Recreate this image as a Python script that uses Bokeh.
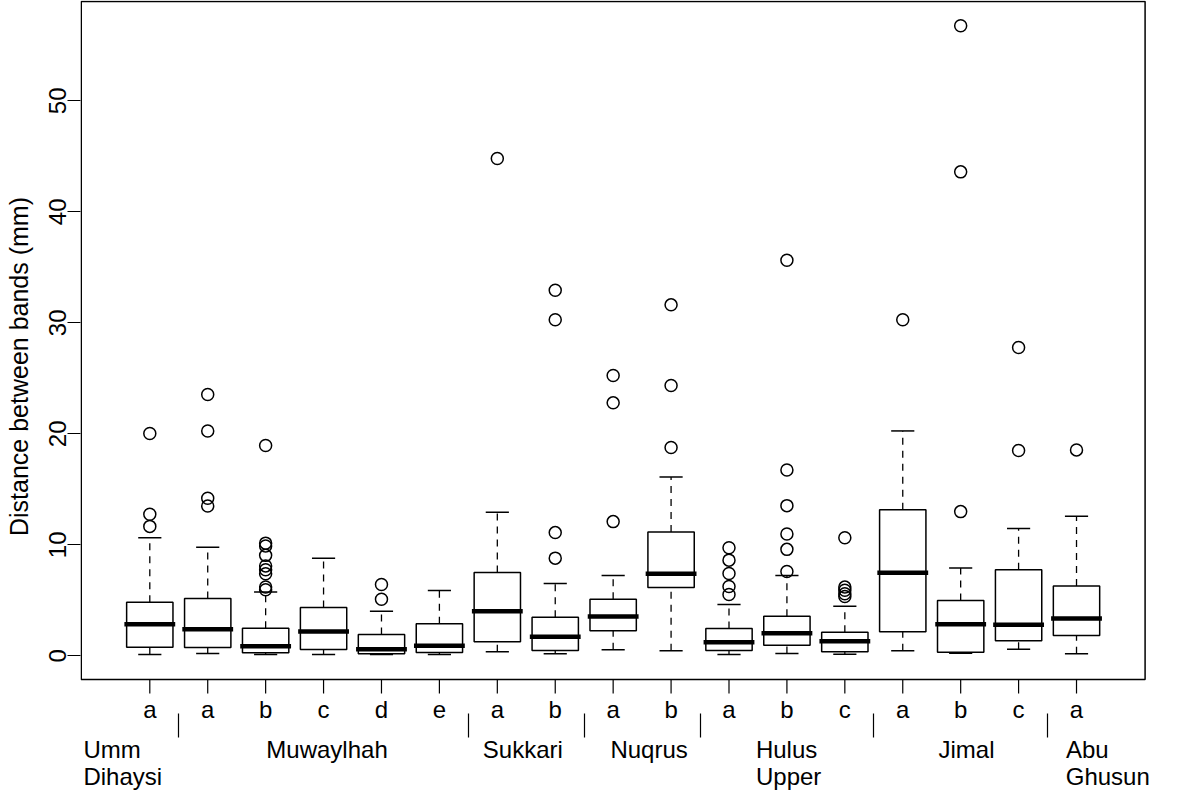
from bokeh.plotting import figure
from bokeh.models import FixedTicker, ColumnDataSource, Range1d, LinearAxis
from bokeh.core.properties import value
from bokeh.embed import file_html
from bokeh.resources import INLINE

# ---------------- data ----------------
sites = ["Umm Dihaysi", "Muwaylhah", "Muwaylhah", "Muwaylhah", "Muwaylhah", "Muwaylhah",
         "Sukkari", "Sukkari", "Nuqrus", "Nuqrus", "Hulus Upper", "Hulus Upper", "Hulus Upper",
         "Jimal", "Jimal", "Jimal", "Abu Ghusun"]
letters = ["a", "a", "b", "c", "d", "e", "a", "b", "a", "b", "a", "b", "c", "a", "b", "c", "a"]

lower_whisker = [0.12, 0.21, 0.12, 0.12, 0.12, 0.12, 0.36, 0.18, 0.54, 0.45, 0.12, 0.21, 0.14, 0.45, 0.24, 0.60, 0.18]
q1 = [0.78, 0.75, 0.27, 0.57, 0.18, 0.30, 1.26, 0.48, 2.25, 6.16, 0.48, 0.96, 0.36, 2.16, 0.33, 1.35, 1.83]
median = [2.85, 2.40, 0.87, 2.19, 0.60, 0.90, 4.02, 1.71, 3.55, 7.40, 1.23, 2.04, 1.32, 7.49, 2.85, 2.80, 3.36]
q3 = [4.83, 5.17, 2.49, 4.36, 1.92, 2.89, 7.51, 3.48, 5.10, 11.15, 2.46, 3.57, 2.13, 13.17, 4.99, 7.76, 6.28]
upper_whisker = [10.64, 9.77, 5.74, 8.78, 4.02, 5.89, 12.93, 6.52, 7.24, 16.11, 4.63, 7.24, 4.47, 20.26, 7.90, 11.46, 12.57]
outliers = [
    [11.66, 12.75, 20.03],
    [13.5, 14.2, 20.26, 23.54],
    [5.95, 6.2, 7.4, 7.75, 8.1, 9.05, 9.9, 10.15, 18.94],
    [],
    [5.1, 6.43],
    [],
    [44.8],
    [8.8, 11.1, 30.27, 32.94],
    [12.09, 22.79, 25.26],
    [18.76, 24.36, 31.62],
    [5.53, 6.25, 7.42, 8.62, 9.74],
    [7.6, 9.59, 10.97, 13.53, 16.74, 35.64],
    [5.35, 5.59, 5.9, 6.19, 10.64],
    [30.27],
    [12.99, 43.6, 56.76],
    [18.49, 27.77],
    [18.55],
]
y_ticks = [0, 10, 20, 30, 40, 50]

group_line1 = ["Umm", "Muwaylhah", "Sukkari", "Nuqrus", "Hulus", "Jimal", "Abu"]
group_line2 = ["Dihaysi", "Upper", "Ghusun"]

# ---------------- layout (positions / styles) ----------------
FONT = "Liberation Sans"
FS = "24px"
n = len(letters)
pos = list(range(1, n + 1))
box_w = 0.8
cap_w = 0.4

box_left, box_right = -0.184, n + 1.184
box_bottom, box_top = -2.14, 58.95
tick_bottom = -3.40          # end of the x tick marks
letter_y = -4.81             # middle of the letter row

# label anchors (centre of each text, box-position units)
line1_x = [0.349, 4.06, 7.44, 9.62, 11.995, 15.1, 17.185]
line2_x = [0.534, 12.03, 17.54]
sep_x = [i + 0.5 for i in range(1, n) if sites[i] != sites[i - 1]]

W, H = 1190, 798
p = figure(width=W, height=H, output_backend="svg", toolbar_location=None,
           x_range=Range1d(-0.1965, 18.968), y_range=Range1d(-6.91, 59.04),
           min_border_left=80, min_border_right=0, min_border_top=0, min_border_bottom=66)
p.grid.visible = False
p.outline_line_color = None
p.background_fill_color = "white"
p.border_fill_color = "white"

src = ColumnDataSource(dict(x=pos, lw=lower_whisker, q1=q1, med=median, q3=q3, uw=upper_whisker,
                            x0=[x - box_w / 2 for x in pos], x1=[x + box_w / 2 for x in pos],
                            c0=[x - cap_w / 2 for x in pos], c1=[x + cap_w / 2 for x in pos],
                            tb=[box_bottom] * n, te=[tick_bottom] * n, ly=[letter_y] * n,
                            lab=letters))

# plotting box
p.quad(left=[box_left], right=[box_right], bottom=[box_bottom], top=[box_top],
       fill_color=None, line_color="black", line_width=1.5)

# dashed whiskers
p.segment(x0="x", y0="q3", x1="x", y1="uw", source=src, line_color="black", line_width=1.3, line_dash="7 6")
p.segment(x0="x", y0="lw", x1="x", y1="q1", source=src, line_color="black", line_width=1.3, line_dash="7 6")
# caps
p.segment(x0="c0", y0="uw", x1="c1", y1="uw", source=src, line_color="black", line_width=1.5)
p.segment(x0="c0", y0="lw", x1="c1", y1="lw", source=src, line_color="black", line_width=1.5)
# boxes
p.quad(left="x0", right="x1", bottom="q1", top="q3", source=src, fill_color="white",
       line_color="black", line_width=1.5)
# medians
p.segment(x0="x0", y0="med", x1="x1", y1="med", source=src, line_color="black", line_width=4.5,
          line_cap="square")

# outliers
ox, oy = [], []
for x, outs in zip(pos, outliers):
    for v in outs:
        ox.append(x)
        oy.append(v)
p.scatter(ox, oy, marker="circle", size=12, fill_color=None, line_color="black", line_width=1.5)

# box-level ticks and letters below the box
p.segment(x0="x", y0="tb", x1="x", y1="te", source=src, line_color="black", line_width=1.2)
p.text(x="x", y="ly", text="lab", source=src, text_font=value(FONT), text_font_size=value(FS),
       text_align="center", text_baseline="middle", text_color="black")


def style_axis(ax):
    ax.major_tick_line_color = None
    ax.major_tick_in = 0
    ax.major_tick_out = 0
    ax.axis_line_color = None
    ax.major_label_text_font = FONT
    ax.major_label_text_font_size = FS
    ax.major_label_text_color = "black"


# x axis 1: first line of group names, separators as minor ticks
xa = p.xaxis[0]
xa.ticker = FixedTicker(ticks=line1_x, minor_ticks=sep_x)
xa.major_label_overrides = {x: t for x, t in zip(line1_x, group_line1)}
style_axis(xa)
xa.minor_tick_in = 19
xa.minor_tick_out = 5
xa.minor_tick_line_color = "black"
xa.minor_tick_line_width = 1.2
xa.major_label_standoff = -2

# x axis 2: second line of group names
xb = LinearAxis(ticker=FixedTicker(ticks=line2_x),
                major_label_overrides={x: t for x, t in zip(line2_x, group_line2)})
style_axis(xb)
xb.minor_tick_line_color = None
xb.major_label_standoff = -3
p.add_layout(xb, "below")

# y axis
p.yaxis.ticker = FixedTicker(ticks=y_ticks)
p.yaxis.minor_tick_line_color = None
p.yaxis.major_tick_in = 0
p.yaxis.major_tick_out = 13
p.yaxis.major_label_orientation = "vertical"
p.yaxis.major_label_standoff = 1
p.yaxis.axis_line_color = None
p.yaxis.axis_label = "Distance between bands (mm)"
p.yaxis.axis_label_standoff = 14
p.yaxis.axis_label_text_font_style = "normal"
p.yaxis.major_label_text_font = FONT
p.yaxis.major_label_text_font_size = FS
p.yaxis.major_label_text_color = "black"
p.yaxis.major_tick_line_color = "black"
p.yaxis.major_tick_line_width = 1.2
p.yaxis.axis_label_text_font = FONT
p.yaxis.axis_label_text_font_size = "25px"
p.yaxis.axis_label_text_color = "black"

open("out.html", "w").write(file_html(p, INLINE))
